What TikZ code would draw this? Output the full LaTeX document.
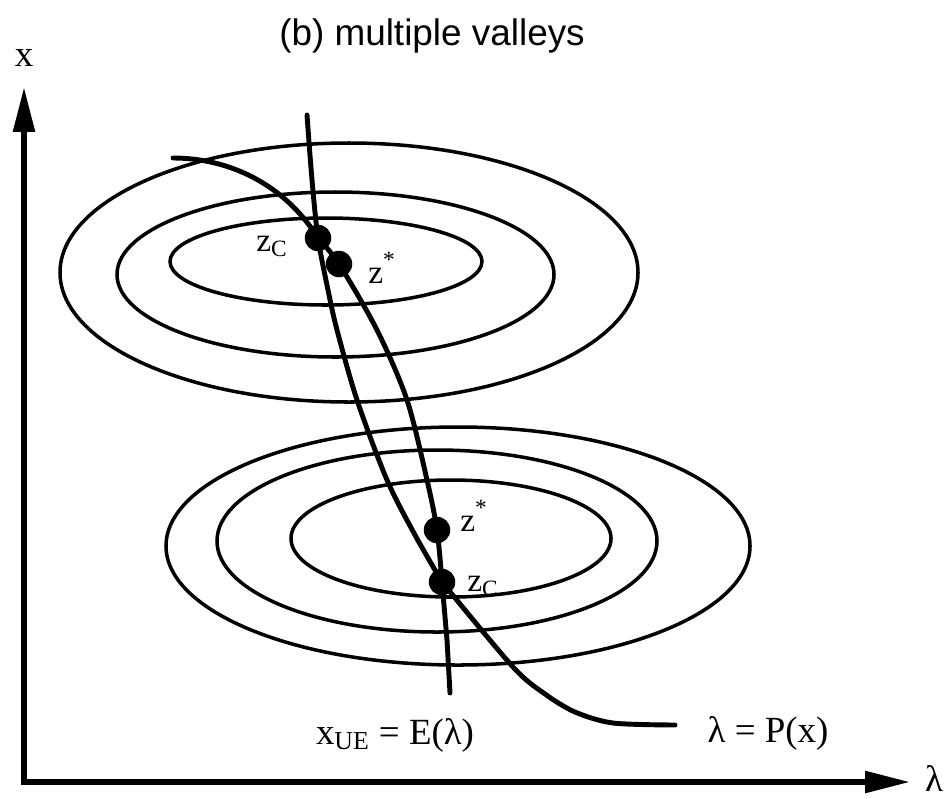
\documentclass[tikz,border=0pt]{standalone}
\usepackage{fontspec}
\setmainfont{Liberation Serif}
\newfontfamily\titlefont{Liberation Sans}
\usetikzlibrary{arrows.meta}

\begin{document}
\begin{tikzpicture}[x=0.02cm, y=-0.02cm,
      axis/.style={line width=3.2pt, {Triangle[length=0.9cm, width=0.42cm]}-{Triangle[length=0.9cm, width=0.42cm]}},
      contour/.style={line width=2pt},
      curve/.style={line width=2.8pt, line join=round, line cap=round},
      dot/.style={circle, fill=black, inner sep=0pt, minimum size=0.53cm},
      lbl/.style={font=\fontsize{21}{24}\selectfont, inner sep=1pt},
      zlbl/.style={font=\fontsize{19}{22}\selectfont, inner sep=1pt}]
    \useasboundingbox (0,0) rectangle (945,798);
    % axes
    \coordinate (origin) at (24,782);
    \coordinate (ytip) at (24,87);
    \coordinate (xtip) at (910,782);
    \draw[axis] (ytip) -- (origin) -- (xtip);
    \node[lbl] (xlab) at (24,58) {x};
    \node[lbl] (lamlab) at (934,778) {λ};
    \node[font=\titlefont\fontsize{21}{24}\selectfont] (title) at (432,36) {(b) multiple valleys};
    % valleys
    \draw[contour] (326,261.5) ellipse [x radius=156, y radius=43.5];
    \draw[contour] (335.5,274.5) ellipse [x radius=218.5, y radius=82.5];
    \draw[contour] (349,272.5) ellipse [x radius=289, y radius=129.5];
    \draw[contour] (451,538.5) ellipse [x radius=160, y radius=58.5];
    \draw[contour] (437,541) ellipse [x radius=220, y radius=91];
    \draw[contour] (458,546) ellipse [x radius=292, y radius=119];
    % points
    \node[dot] (zcA) at (318,238) {};
    \node[dot] (zsA) at (339,264) {};
    \node[dot] (zsB) at (437,530) {};
    \node[dot] (zcB) at (442,582) {};
    \coordinate (Etop) at (307,115);
    \coordinate (Eend) at (450,693);
    \coordinate (Pstart) at (173,158);
    \coordinate (Pend) at (675,725);
    % x_UE = E(lambda)
    \draw[curve] plot[smooth] coordinates {(Etop) (312,180) (zcA.center) (328,290) (337,330) (357,400) (387,480) (415,535) (zcB.center)} -- (447,640) -- (Eend);
    % lambda = P(x)
    \draw[curve] (Pstart) .. controls (230,158) and (285,185) .. (zcA.center);
    \draw[curve] plot[smooth] coordinates {(zcA.center) (zsA.center) (377,330) (407,400) (427,480) (zsB.center) (zcB.center)};
    \draw[curve] plot[smooth] coordinates {(zcB.center) (513,667) (545,694) (575,712) (613,723) (Pend)};
    % labels
    \node[zlbl] (zcAlab) at (272,246) {z\textsubscript{C}};
    \node[zlbl] (zsAlab) at (382,268) {z\textsuperscript{\raisebox{0.5ex}{*}}};
    \node[zlbl] (zsBlab) at (474,516) {z\textsuperscript{\raisebox{0.5ex}{*}}};
    \node[zlbl] (zcBlab) at (483,586) {z\textsubscript{C}};
    \node[lbl] (Elab) at (395,735) {x\textsubscript{UE} = E(λ)};
    \node[lbl] (Plab) at (768,733) {λ = P(x)};
\end{tikzpicture}
\end{document}
